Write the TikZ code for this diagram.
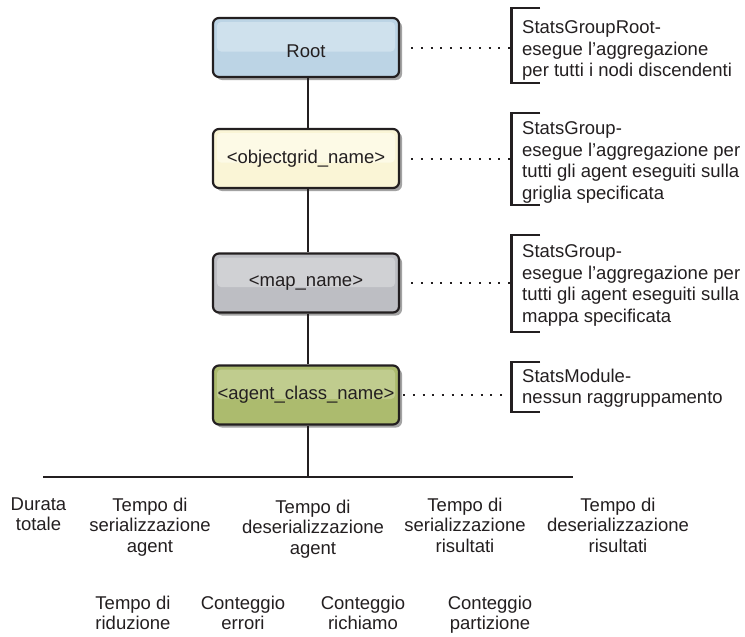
\documentclass[tikz,border=0pt]{standalone}
\usepackage{fontspec}
\setmainfont{Liberation Sans}
\usetikzlibrary{shadows}

\definecolor{ink}{RGB}{35,31,32}
\definecolor{rootbase}{RGB}{188,212,229}
\definecolor{roothl}{RGB}{207,225,237}
\definecolor{gridbase}{RGB}{250,245,214}
\definecolor{gridhl}{RGB}{253,250,230}
\definecolor{mapbase}{RGB}{189,190,195}
\definecolor{maphl}{RGB}{208,209,212}
\definecolor{agentbase}{RGB}{172,187,110}
\definecolor{agenthl}{RGB}{192,204,142}

\begin{document}
\begin{tikzpicture}[x=1pt, y=-1pt,
  every node/.style={text=ink},
  levelbox/.style 2 args={
    draw=ink, line width=2.2pt, rounded corners=6pt,
    minimum width=186pt, minimum height=59pt, inner sep=0pt,
    font=\fontsize{18.5}{21.5}\selectfont,
    fill=#1,
    drop shadow={shadow xshift=3pt, shadow yshift=-3pt, fill=black!45, opacity=0.8},
    path picture={\fill[#2, rounded corners=4pt]
      ([shift={(4pt,-4pt)}]path picture bounding box.north west) rectangle
      ([shift={(-4pt,-4pt)}]path picture bounding box.east);}},
  desc/.style={font=\fontsize{18.5}{21.5}\selectfont, align=left, inner sep=0pt, anchor=north west},
  metric/.style={font=\fontsize{18.5}{20.5}\selectfont, align=center, inner sep=0pt, anchor=north},
  link/.style={draw=ink, line width=2.2pt},
  dotline/.style={draw=ink, line width=2pt, dash pattern=on 2pt off 7.7pt},
  bracket/.style={draw=ink, line width=2.4pt}]

\useasboundingbox (0,0) rectangle (745,637);

% hierarchy of statistics levels
\node[levelbox={rootbase}{roothl}, text height=20pt] (root) at (306,47.5) {Root};
\node[levelbox={gridbase}{gridhl}] (grid) at (306,158.5) {<objectgrid\_name>};
\node[levelbox={mapbase}{maphl}] (map) at (306,283) {<map\_name>};
\node[levelbox={agentbase}{agenthl}] (agent) at (306,395) {<agent\_class\_name>};

% vertical trunk
\draw[link] ([xshift=2pt]root.south) -- ([xshift=2pt]grid.north);
\draw[link] ([xshift=2pt]grid.south) -- ([xshift=2pt]map.north);
\draw[link] ([xshift=2pt]map.south) -- ([xshift=2pt]agent.north);

% horizontal bar over the metrics
\coordinate (barL) at (43,477);
\coordinate (barR) at (573,477);
\draw[link] (barL) -- (barR);
\draw[link] ([xshift=2pt]agent.south) -- ([xshift=2pt]agent.south |- barL);

% descriptions with brackets
\coordinate (bx) at (511.5,0);
\node[desc] (d1) at (522,20.5) {StatsGroupRoot-\\esegue l’aggregazione\\per tutti i nodi discendenti};
\node[desc] (d2) at (522,121.5) {StatsGroup-\\esegue l’aggregazione per\\tutti gli agent eseguiti sulla\\griglia specificata};
\node[desc] (d3) at (522,244.5) {StatsGroup-\\esegue l’aggregazione per\\tutti gli agent eseguiti sulla\\mappa specificata};
\node[desc] (d4) at (522,368.5) {StatsModule-\\nessun raggruppamento};

\draw[bracket] (540,8) -- (511.5,8) -- (511.5,83) -- (540,83);
\draw[bracket] (540,113) -- (511.5,113) -- (511.5,205) -- (540,205);
\draw[bracket] (540,235) -- (511.5,235) -- (511.5,332) -- (540,332);
\draw[bracket] (540,362) -- (511.5,362) -- (511.5,412) -- (540,412);

\draw[dotline, shorten <=11pt] (root.east) -- (root.east -| bx);
\draw[dotline, shorten <=11pt] (grid.east) -- (grid.east -| bx);
\draw[dotline, shorten <=11pt] (map.east) -- (map.east -| bx);
\draw[dotline, shorten <=3pt] (agent.east) -- (agent.east -| bx);

% metrics
\node[metric] (m1) at (38.5,497.5) {Durata\\totale};
\node[metric] (m2) at (150,497.5) {Tempo di\\serializzazione\\agent};
\node[metric] (m3) at (313,499.5) {Tempo di\\deserializzazione\\agent};
\node[metric] (m4) at (465,497.5) {Tempo di\\serializzazione\\risultati};
\node[metric] (m5) at (618,497.5) {Tempo di\\deserializzazione\\risultati};

\node[metric] (m6) at (133,595.5) {Tempo di\\riduzione};
\node[metric] (m7) at (243,595.5) {Conteggio\\errori};
\node[metric] (m8) at (363,595.5) {Conteggio\\richiamo};
\node[metric] (m9) at (490,595.5) {Conteggio\\partizione};
\end{tikzpicture}
\end{document}
